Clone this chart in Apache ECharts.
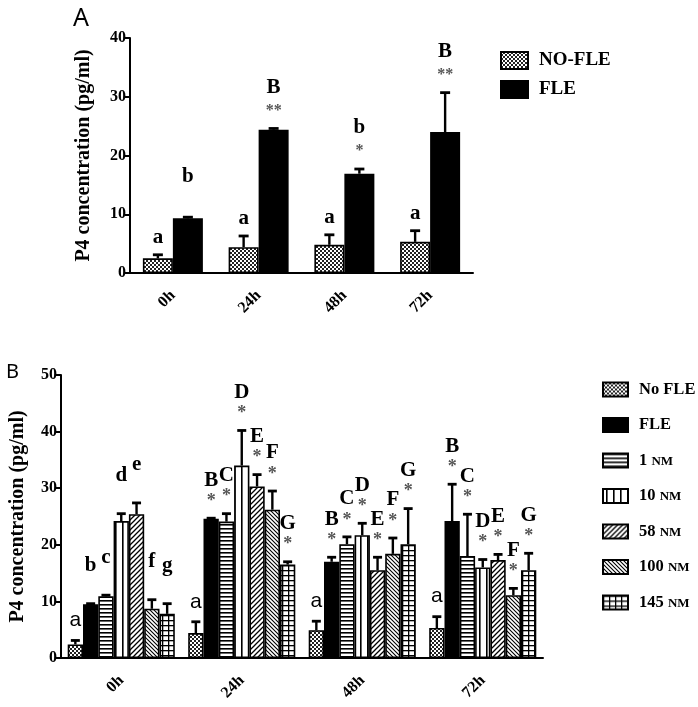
<!DOCTYPE html>
<html>
<head>
<meta charset="utf-8">
<script src="https://cdn.jsdelivr.net/npm/echarts@6/dist/echarts.min.js"></script>
<style>html,body{margin:0;padding:0;background:#fff;}#main{width:698px;height:707px;}</style>
</head>
<body>
<div id="main"></div>
<script>
// ---------- DATA ----------
const categories = ['0h', '24h', '48h', '72h'];

// Panel A
const aNoFle      = [2.5, 4.4, 4.8, 5.3];
const aNoFleErr   = [3.1, 6.3, 6.5, 7.2];
const aFle        = [9.3, 24.4, 16.9, 24.0];
const aFleErr     = [9.5, 24.6, 17.7, 30.7];
const aNoFleLetters = ['a', 'a', 'a', 'a'];
const aNoFleStars   = ['', '', '', ''];
const aFleLetters   = ['b', 'B', 'b', 'B'];
const aFleStars     = ['', '**', '*', '**'];

// Panel B
const bNoFle    = [2.4, 4.4, 4.9, 5.3];
const bNoFleErr = [3.1, 6.4, 6.5, 7.3];
const bFle      = [9.5, 24.6, 17.0, 24.2];
const bFleErr   = [9.6, 24.7, 17.8, 30.7];
const b1nM      = [10.9, 24.1, 20.1, 18.0];
const b1nMErr   = [11.1, 25.5, 21.4, 25.4];
const b10nM     = [24.2, 34.0, 21.7, 16.0];
const b10nMErr  = [25.5, 40.2, 23.8, 17.4];
const b58nM     = [25.4, 30.3, 15.5, 17.3];
const b58nMErr  = [27.4, 32.4, 17.8, 18.3];
const b100nM    = [8.7, 26.2, 18.4, 11.1];
const b100nMErr = [10.3, 29.5, 21.2, 12.3];
const b145nM    = [7.8, 16.5, 20.1, 15.5];
const b145nMErr = [9.6, 17.0, 26.4, 18.5];

const bNoFleLetters = ['a', 'a', 'a', 'a'];
const bFleLetters   = ['b', 'B', 'B', 'B'];
const b1nMLetters   = ['c', 'C', 'C', 'C'];
const b10nMLetters  = ['d', 'D', 'D', 'D'];
const b58nMLetters  = ['e', 'E', 'E', 'E'];
const b100nMLetters = ['f', 'F', 'F', 'F'];
const b145nMLetters = ['g', 'G', 'G', 'G'];
const bNoStars      = ['', '', '', ''];
const bStars        = ['', '*', '*', '*'];

const legendA = ['NO-FLE', 'FLE'];
const legendB = ['No FLE', 'FLE', '1 nM', '10 nM', '58 nM', '100 nM', '145 nM'];

// ---------- PATTERNS ----------
function tile(w, h, draw) {
  const c = document.createElement('canvas');
  c.width = w; c.height = h;
  const ctx = c.getContext('2d');
  ctx.fillStyle = '#fff'; ctx.fillRect(0, 0, w, h);
  ctx.fillStyle = '#000'; ctx.strokeStyle = '#000';
  draw(ctx, w, h);
  return { image: c, repeat: 'repeat' };
}
const patChecker = tile(4, 4, (c) => { c.fillStyle = '#222'; c.fillRect(0, 0, 4, 4); c.fillStyle = '#fff'; c.fillRect(0, 0, 2, 2); c.fillRect(2, 2, 2, 2); });
const patH = tile(4, 4, (c) => { c.fillRect(0, 0, 4, 1.6); });
const patV = tile(7, 7, (c) => { c.fillRect(3, 0, 1.6, 7); });
function diag(n, dir, lw) {
  return tile(n, n, (c) => {
    c.lineWidth = lw;
    c.beginPath();
    if (dir > 0) {
      c.moveTo(0, n); c.lineTo(n, 0);
      c.moveTo(-n, n); c.lineTo(n, -n);
      c.moveTo(0, 2 * n); c.lineTo(2 * n, 0);
    } else {
      c.moveTo(0, 0); c.lineTo(n, n);
      c.moveTo(-n, 0); c.lineTo(n, 2 * n);
      c.moveTo(0, -n); c.lineTo(2 * n, n);
    }
    c.stroke();
  });
}
const pat58 = diag(5, 1, 1.3);
const pat100 = diag(4, -1, 1.1);
const patGrid = tile(6, 5, (c) => { c.fillRect(0, 0, 6, 1.3); c.fillRect(0, 0, 1.3, 5); });

// ---------- HELPERS ----------
const SERIF = 'Liberation Serif';
const barBorder = { borderColor: '#000', borderWidth: 1.6 };

function barSeries(name, axis, values, color, barW) {
  return {
    name: name, type: 'bar', xAxisIndex: axis, yAxisIndex: axis,
    data: values, barWidth: barW, barGap: '0%',
    itemStyle: Object.assign({ color: color }, barBorder),
    emphasis: { disabled: true }, z: 2
  };
}

function errSeries(axis, order, n, barW, values, errs, letters, stars, cfg) {
  return {
    type: 'custom', xAxisIndex: axis, yAxisIndex: axis, z: 10,
    data: values.map((v, i) => [i, v, errs[i]]),
    silent: true,
    renderItem: function (params, api) {
      const i = api.value(0);
      const base = api.coord([i, api.value(1)]);
      const top = api.coord([i, api.value(2)]);
      const x = base[0] + (order - (n - 1) / 2) * barW;
      const children = [
        { type: 'line', shape: { x1: x, y1: base[1], x2: x, y2: top[1] }, style: { stroke: '#000', lineWidth: cfg.errW } },
        { type: 'line', shape: { x1: x - cfg.cap, y1: top[1], x2: x + cfg.cap, y2: top[1] }, style: { stroke: '#000', lineWidth: cfg.errW + 0.4 } }
      ];
      const letter = letters[params.dataIndex];
      const star = stars[params.dataIndex];
      if (star) {
        children.push({ type: 'text', style: { text: star, x: x, y: top[1] - cfg.starLift, align: 'center', verticalAlign: 'middle', font: cfg.starFont, fill: '#555' } });
      }
      if (letter) {
        children.push({ type: 'text', style: { text: letter, x: x, y: top[1] - (cfg.reserve ? cfg.letterLift : cfg.plainLift), align: 'center', verticalAlign: 'middle', font: cfg.letterFont, fill: '#000' } });
      }
      return { type: 'group', children: children };
    }
  };
}

function yAxis(grid, max, gap) {
  return {
    type: 'value', gridIndex: grid, min: 0, max: max, interval: 10,
    name: 'P4 concentration (pg/ml)', nameLocation: 'middle', nameGap: gap,
    nameTextStyle: { fontFamily: SERIF, fontWeight: 'bold', fontSize: 20, color: '#000' },
    axisLine: { show: true, lineStyle: { color: '#000', width: 2 } },
    axisTick: { show: true, length: 5, lineStyle: { color: '#000', width: 2 } },
    axisLabel: { fontFamily: SERIF, fontWeight: 'bold', fontSize: 16, color: '#000', margin: 4 },
    splitLine: { show: false }
  };
}
function xAxis(grid) {
  return {
    type: 'category', gridIndex: grid, data: categories,
    axisLine: { lineStyle: { color: '#000', width: 2 } },
    axisTick: { alignWithLabel: true, length: 6, lineStyle: { color: '#000', width: 2 } },
    axisLabel: { rotate: 45, fontFamily: SERIF, fontWeight: 'bold', fontSize: 16, color: '#000', margin: 20 }
  };
}

const BWA = 30, BWB = 15.3;
const cfgA = { errW: 2.4, cap: 5, starLift: 18, letterLift: 41, plainLift: 17, reserve: true,
  starFont: 'bold 16px ' + SERIF, letterFont: 'bold 21px ' + SERIF };
const cfgANo = Object.assign({}, cfgA, { reserve: false });
const cfgB = { errW: 2.4, cap: 4.5, starLift: 17, letterLift: 38, plainLift: 20, reserve: true,
  starFont: 'bold 18px ' + SERIF, letterFont: 'bold 21px ' + SERIF };
const cfgBNo = Object.assign({}, cfgB, { reserve: false, letterFont: '21px "Liberation Sans"' });

const colsB = [patChecker, '#000', patH, patV, pat58, pat100, patGrid];
const valsB = [bNoFle, bFle, b1nM, b10nM, b58nM, b100nM, b145nM];
const errsB = [bNoFleErr, bFleErr, b1nMErr, b10nMErr, b58nMErr, b100nMErr, b145nMErr];
const letB = [bNoFleLetters, bFleLetters, b1nMLetters, b10nMLetters, b58nMLetters, b100nMLetters, b145nMLetters];

const series = [
  barSeries(legendA[0], 0, aNoFle, patChecker, BWA),
  barSeries(legendA[1], 0, aFle, '#000', BWA)
];
legendB.forEach((nm, k) => series.push(barSeries(nm, 1, valsB[k], colsB[k], BWB)));
series.push(errSeries(0, 0, 2, BWA, aNoFle, aNoFleErr, aNoFleLetters, aNoFleStars, cfgANo));
series.push(errSeries(0, 1, 2, BWA, aFle, aFleErr, aFleLetters, aFleStars, cfgA));
legendB.forEach((nm, k) => series.push(errSeries(1, k, 7, BWB, valsB[k], errsB[k], letB[k], k === 0 ? bNoStars : bStars, k === 0 ? cfgBNo : cfgB)));

const chart = echarts.init(document.getElementById('main'), null, { renderer: 'canvas' });
chart.setOption({
  animation: false,
  backgroundColor: '#fff',
  grid: [
    { left: 130, top: 38, width: 343, height: 235 },
    { left: 58, top: 375, width: 485, height: 283 }
  ],
  xAxis: [xAxis(0), xAxis(1)],
  yAxis: [yAxis(0, 40, 36), yAxis(1, 50, 33)],
  legend: [
    {
      data: legendA, left: 495, top: 46, orient: 'vertical',
      itemWidth: 27, itemHeight: 17, itemGap: 10, selectedMode: false,
      icon: 'rect',
      textStyle: { fontFamily: SERIF, fontWeight: 'bold', fontSize: 19, color: '#000', padding: [0, 0, 0, 6] }
    },
    {
      data: legendB, left: 597, top: 376, orient: 'vertical',
      itemWidth: 25, itemHeight: 14, itemGap: 18.5, selectedMode: false,
      icon: 'rect',
      formatter: function (name) {
        const m = name.match(/^(\d+)\s*nM$/);
        return m ? '{n|' + m[1] + ' }{sc|NM}' : '{n|' + name + '}';
      },
      textStyle: {
        fontFamily: SERIF, fontWeight: 'bold', fontSize: 16.5, color: '#000', padding: [0, 0, 0, 6],
        rich: {
          n: { fontFamily: SERIF, fontWeight: 'bold', fontSize: 16.5, color: '#000' },
          sc: { fontFamily: SERIF, fontWeight: 'bold', fontSize: 13, color: '#000', padding: [2, 0, 0, 0] }
        }
      }
    }
  ],
  graphic: [
    { type: 'text', left: 73, top: 6, style: { text: 'A', font: '25px "Noto Sans"', fill: '#000' } },
    { type: 'text', left: 6, top: 362, style: { text: 'B', font: '20px "Noto Sans"', fill: '#000' } }
  ],
  series: series
});
</script>
</body>
</html>
